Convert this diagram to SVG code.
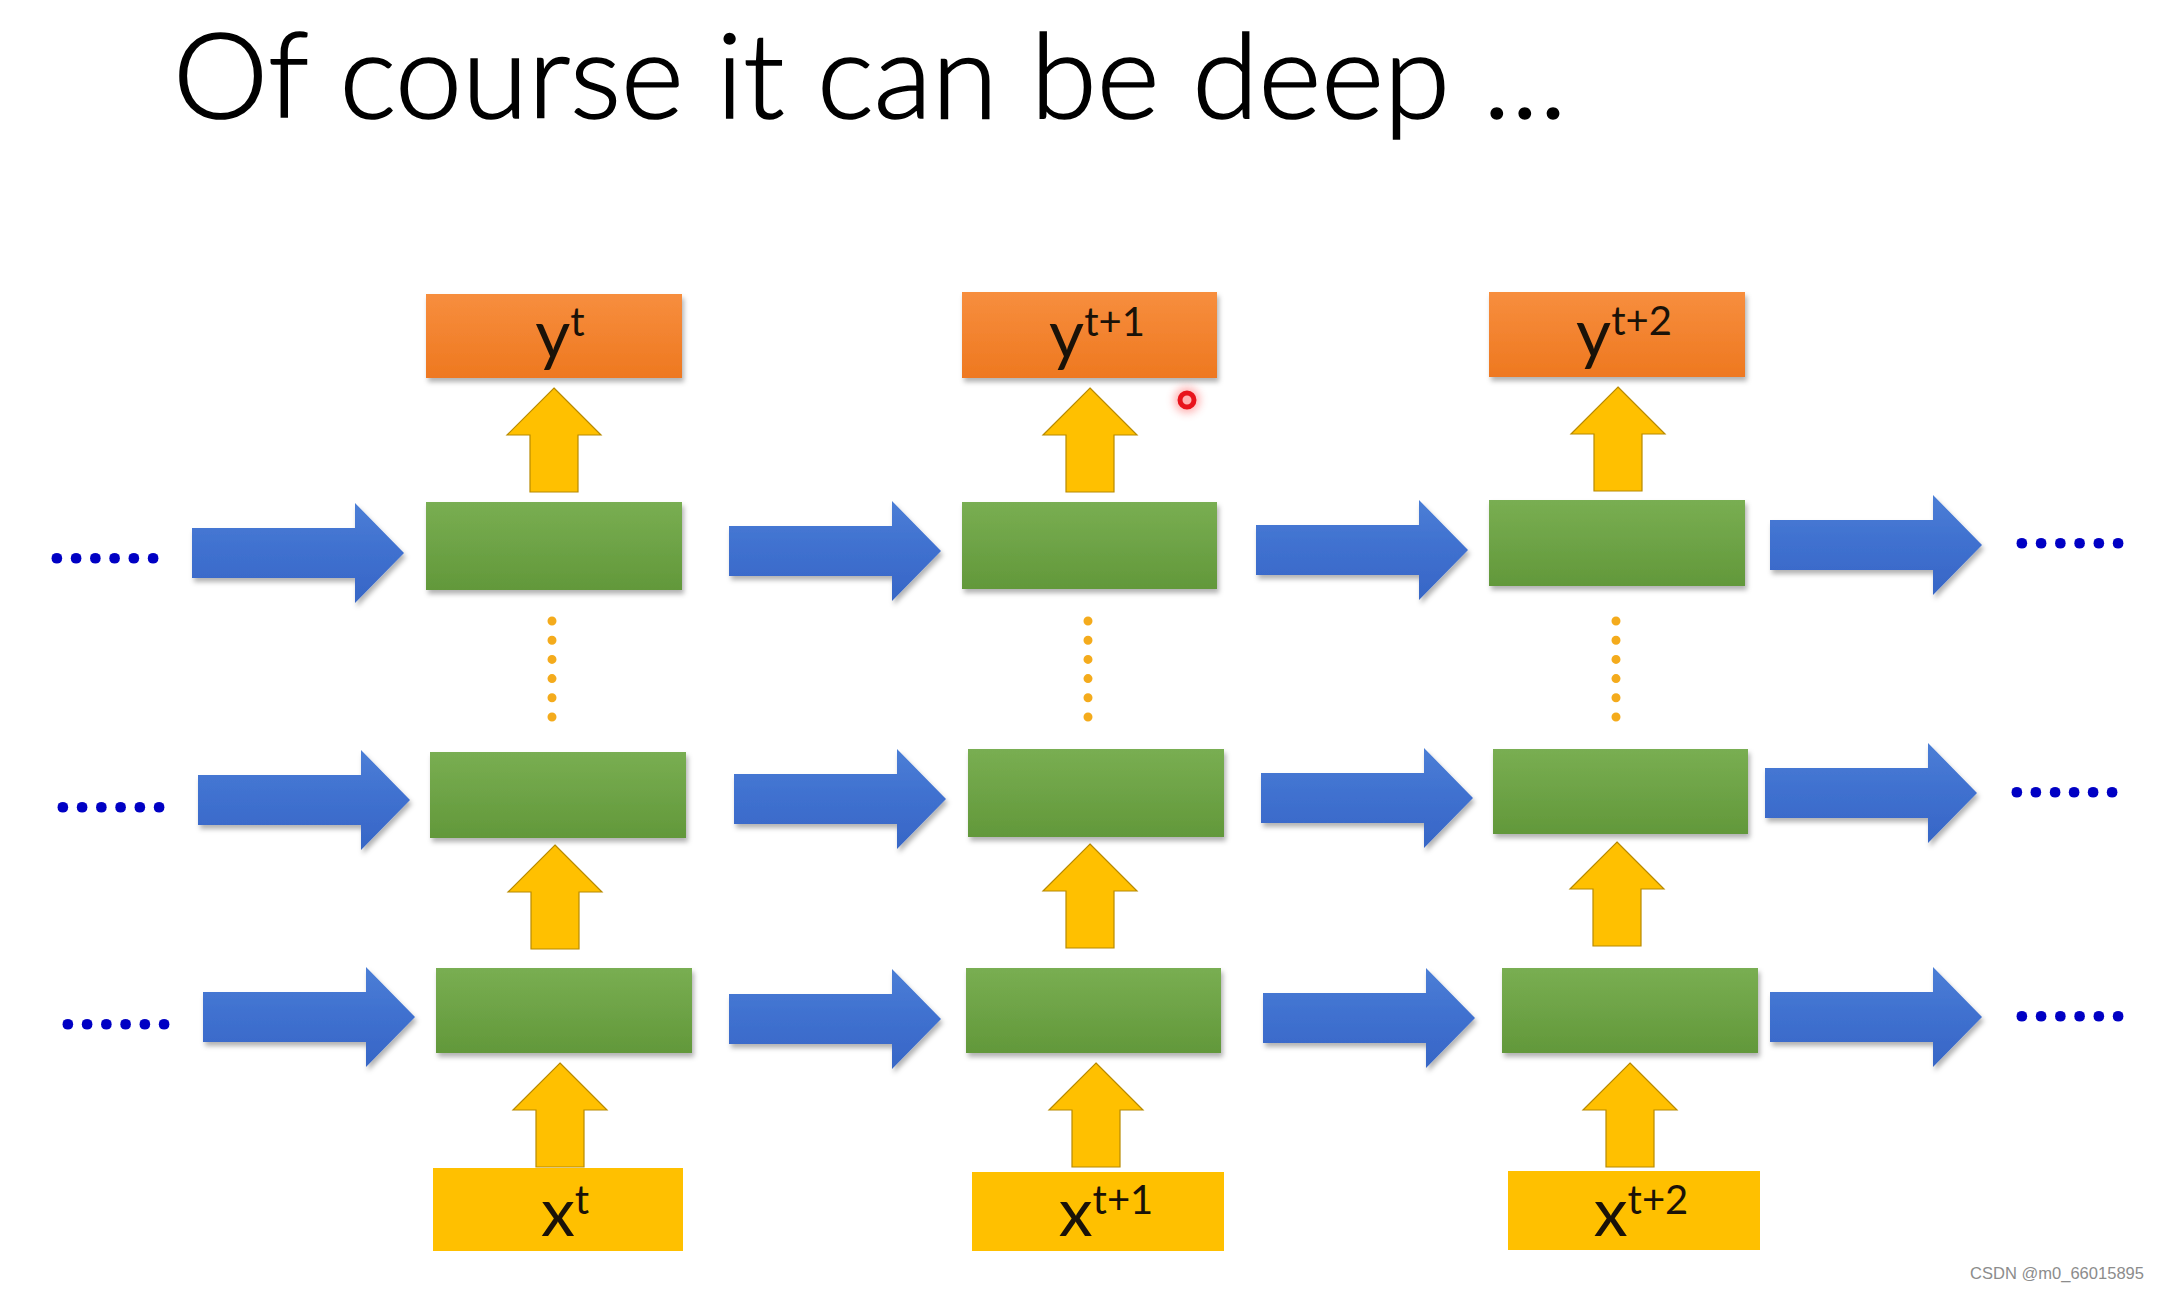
<svg xmlns="http://www.w3.org/2000/svg" xmlns:xlink="http://www.w3.org/1999/xlink" width="2160" height="1292" viewBox="0 0 2160 1292">
  <defs>
    <linearGradient id="gOrange" x1="0" y1="0" x2="0" y2="1">
      <stop offset="0" stop-color="#f78e3e"/>
      <stop offset="1" stop-color="#ee7820"/>
    </linearGradient>
    <linearGradient id="gGreen" x1="0" y1="0" x2="0" y2="1">
      <stop offset="0" stop-color="#79ae52"/>
      <stop offset="1" stop-color="#62983a"/>
    </linearGradient>
    <linearGradient id="gBlue" x1="0" y1="0" x2="0" y2="1">
      <stop offset="0" stop-color="#4b7ed6"/>
      <stop offset="0.5" stop-color="#3f70cf"/>
      <stop offset="1" stop-color="#3766c6"/>
    </linearGradient>
    <filter id="shadow" x="-10%" y="-20%" width="125%" height="150%">
      <feDropShadow dx="2" dy="4" stdDeviation="2.5" flood-color="#000" flood-opacity="0.3"/>
    </filter>
    <filter id="glow" x="-100%" y="-100%" width="300%" height="300%">
      <feGaussianBlur stdDeviation="4"/>
    </filter>
    <path id="blueArrow" d="M0,-25 L163,-25 L163,-50 L212,0 L163,50 L163,25 L0,25 Z"/>
    <path id="goldArrow" d="M0,0 L47,47 L24,47 L24,104 L-24,104 L-24,47 L-47,47 Z"/>
    <style>
      .title { font-family: Lato, "Open Sans", "Liberation Sans", sans-serif; font-weight: 300; font-size: 118px; fill: #000; stroke: #000; stroke-width: 1.6px; }
      .lbl { font-family: Lato, "Liberation Sans", sans-serif; font-size: 68px; fill: #1a1208; }
      .sup { font-size: 40px; }
      .ybox { fill: url(#gOrange); filter: url(#shadow); }
      .cell { fill: url(#gGreen); filter: url(#shadow); }
      .xbox { fill: #ffc000; }
      .harrow { fill: url(#gBlue); filter: url(#shadow); }
      .varrow { fill: #ffc000; stroke: #b88a00; stroke-width: 1.2; stroke-linejoin: miter; }
      .vdots { stroke: #f4ab1c; stroke-width: 9; stroke-linecap: round; stroke-dasharray: 0 19.2; fill: none; }
      .hdots { font-family: "Open Sans", Lato, "Liberation Sans", sans-serif; font-weight: bold; font-size: 62px; fill: #0000c4; }
      .wm { font-family: "Liberation Sans", Arial, sans-serif; font-size: 17px; fill: #8c8c8c; }
    </style>
  </defs>

  <rect x="0" y="0" width="2160" height="1292" fill="#ffffff"/>

  <text class="title" x="173" y="118" textLength="1394" lengthAdjust="spacingAndGlyphs">Of course it can be deep ...</text>

  <!-- connectors -->
  <g id="connectors">
    <!-- horizontal recurrent arrows -->
    <use href="#blueArrow" class="harrow" x="192" y="553"/>
    <use href="#blueArrow" class="harrow" x="729" y="551"/>
    <use href="#blueArrow" class="harrow" x="1256" y="550"/>
    <use href="#blueArrow" class="harrow" x="1770" y="545"/>

    <use href="#blueArrow" class="harrow" x="198" y="800"/>
    <use href="#blueArrow" class="harrow" x="734" y="799"/>
    <use href="#blueArrow" class="harrow" x="1261" y="798"/>
    <use href="#blueArrow" class="harrow" x="1765" y="793"/>

    <use href="#blueArrow" class="harrow" x="203" y="1017"/>
    <use href="#blueArrow" class="harrow" x="729" y="1019"/>
    <use href="#blueArrow" class="harrow" x="1263" y="1018"/>
    <use href="#blueArrow" class="harrow" x="1770" y="1017"/>

    <!-- vertical arrows -->
    <use href="#goldArrow" class="varrow" x="554" y="388"/>
    <use href="#goldArrow" class="varrow" x="1090" y="388"/>
    <use href="#goldArrow" class="varrow" x="1618" y="387"/>

    <use href="#goldArrow" class="varrow" x="555" y="845"/>
    <use href="#goldArrow" class="varrow" x="1090" y="844"/>
    <use href="#goldArrow" class="varrow" x="1617" y="842"/>

    <use href="#goldArrow" class="varrow" x="560" y="1063"/>
    <use href="#goldArrow" class="varrow" x="1096" y="1063"/>
    <use href="#goldArrow" class="varrow" x="1630" y="1063"/>

    <!-- vertical dotted (deep layers omitted) -->
    <line class="vdots" x1="552" y1="621" x2="552" y2="718"/>
    <line class="vdots" x1="1088" y1="621" x2="1088" y2="718"/>
    <line class="vdots" x1="1616" y1="621" x2="1616" y2="718"/>

    <!-- horizontal continuation dots -->
    <text class="hdots" x="48" y="563" textLength="114" lengthAdjust="spacing">......</text>
    <text class="hdots" x="54" y="812" textLength="114" lengthAdjust="spacing">......</text>
    <text class="hdots" x="59" y="1029" textLength="114" lengthAdjust="spacing">......</text>
    <text class="hdots" x="2013" y="548" textLength="114" lengthAdjust="spacing">......</text>
    <text class="hdots" x="2008" y="797" textLength="113" lengthAdjust="spacing">......</text>
    <text class="hdots" x="2013" y="1021" textLength="114" lengthAdjust="spacing">......</text>
  </g>

  <!-- output nodes -->
  <g id="y_t">
    <rect class="ybox" x="426" y="294" width="256" height="84"/>
    <text class="lbl" x="560" y="358" text-anchor="middle">y<tspan class="sup" dy="-22">t</tspan></text>
  </g>
  <g id="y_t1">
    <rect class="ybox" x="962" y="292" width="255" height="86"/>
    <text class="lbl" x="1097" y="358" text-anchor="middle">y<tspan class="sup" dy="-22">t+1</tspan></text>
  </g>
  <g id="y_t2">
    <rect class="ybox" x="1489" y="292" width="256" height="85"/>
    <text class="lbl" x="1624" y="357" text-anchor="middle">y<tspan class="sup" dy="-22">t+2</tspan></text>
  </g>

  <!-- hidden layer cells: top layer -->
  <g id="h3_t"><rect class="cell" x="426" y="502" width="256" height="88"/></g>
  <g id="h3_t1"><rect class="cell" x="962" y="502" width="255" height="87"/></g>
  <g id="h3_t2"><rect class="cell" x="1489" y="500" width="256" height="86"/></g>

  <!-- middle layer -->
  <g id="h2_t"><rect class="cell" x="430" y="752" width="256" height="86"/></g>
  <g id="h2_t1"><rect class="cell" x="968" y="749" width="256" height="88"/></g>
  <g id="h2_t2"><rect class="cell" x="1493" y="749" width="255" height="85"/></g>

  <!-- bottom layer -->
  <g id="h1_t"><rect class="cell" x="436" y="968" width="256" height="85"/></g>
  <g id="h1_t1"><rect class="cell" x="966" y="968" width="255" height="85"/></g>
  <g id="h1_t2"><rect class="cell" x="1502" y="968" width="256" height="85"/></g>

  <!-- input nodes -->
  <g id="x_t">
    <rect class="xbox" x="433" y="1168" width="250" height="83"/>
    <text class="lbl" x="565" y="1236" text-anchor="middle">x<tspan class="sup" dy="-22">t</tspan></text>
  </g>
  <g id="x_t1">
    <rect class="xbox" x="972" y="1172" width="252" height="79"/>
    <text class="lbl" x="1106" y="1236" text-anchor="middle">x<tspan class="sup" dy="-22">t+1</tspan></text>
  </g>
  <g id="x_t2">
    <rect class="xbox" x="1508" y="1171" width="252" height="79"/>
    <text class="lbl" x="1641" y="1236" text-anchor="middle">x<tspan class="sup" dy="-22">t+2</tspan></text>
  </g>

  <!-- pointer mark -->
  <g id="pointer">
    <circle cx="1187" cy="400" r="13" fill="#ff4040" opacity="0.4" filter="url(#glow)"/>
    <circle cx="1187" cy="400" r="7" fill="none" stroke="#e8141c" stroke-width="5"/>
  </g>

  <text class="wm" x="1970" y="1279" textLength="174" lengthAdjust="spacingAndGlyphs">CSDN @m0_66015895</text>
</svg>
